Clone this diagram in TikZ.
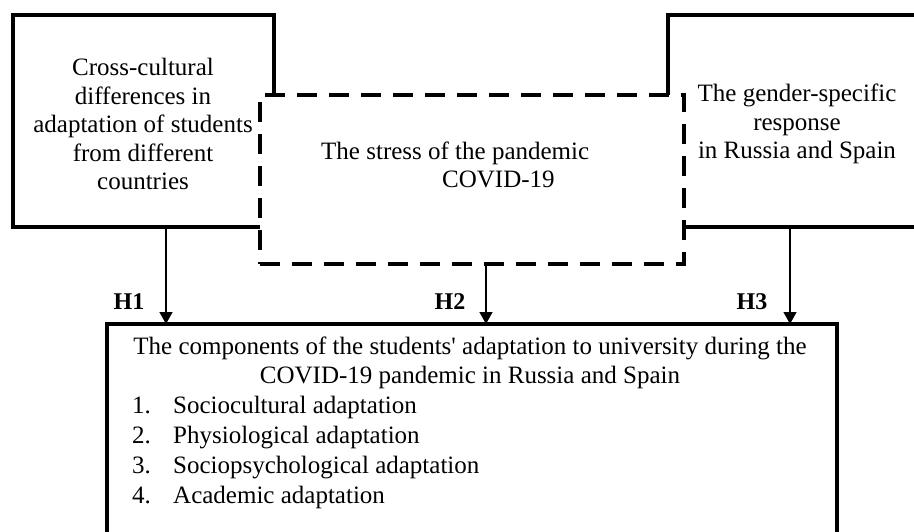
\documentclass[tikz,border=0pt]{standalone}
\usepackage{fontspec}
\setmainfont{Liberation Serif}
\usetikzlibrary{arrows.meta}
\begin{document}
\begin{tikzpicture}[x=1pt,y=-1pt,
  box/.style={draw,line width=4pt,fill=white,outer sep=0pt,inner sep=0pt},
  dbox/.style={box,dash pattern=on 20pt off 12pt},
  txt/.style={font=\fontsize{25}{28.5}\selectfont,align=center,inner sep=0pt},
  lbl/.style={font=\fontsize{24}{28}\selectfont\bfseries,inner sep=0pt},
  arr/.style={line width=1.3pt,-{Triangle[width=13pt,length=12pt]}}]
\useasboundingbox (0,0) rectangle (914,531);
\clip (0,0) rectangle (914,531);
\node[box,minimum width=261pt,minimum height=212pt] (lbox) at (143.5,121) {};
\node[box,minimum width=258pt,minimum height=212pt] (rbox) at (797,121) {};
\node[dbox,minimum width=424pt,minimum height=169pt] (dbox) at (472,179.5) {};
\node[box,minimum width=730pt,minimum height=260pt] (bbox) at (472,454) {};
\node[txt] (ltxt) at (143,124) {Cross-cultural\\differences in\\adaptation of students\\from different\\countries};
\node[txt] (rtxt) at (797,124) {The gender-specific\\response\\in Russia and Spain};
\node[txt,align=left,anchor=west] (stxt) at (321,165) {The stress of the pandemic\\\hspace*{121pt}COVID-19};
\node[txt] (btitle) at (470,363) {The components of the students\textquotesingle{} adaptation to university during the\\COVID-19 pandemic in Russia and Spain};
\node[txt,align=left,anchor=west,font=\fontsize{25}{30.3}\selectfont] (list) at (132,452.5)
  {\makebox[41pt][l]{1.}Sociocultural adaptation\\
   \makebox[41pt][l]{2.}Physiological adaptation\\
   \makebox[41pt][l]{3.}Sociopsychological adaptation\\
   \makebox[41pt][l]{4.}Academic adaptation};
\node[lbl] (h1) at (129,302) {H1};
\node[lbl] (h2) at (450,302) {H2};
\node[lbl] (h3) at (752,302) {H3};
\coordinate (x1) at (166,0);
\coordinate (x2) at (486,0);
\coordinate (x3) at (790,0);
\draw[arr] (lbox.south -| x1) -- (bbox.north -| x1);
\draw[arr] (dbox.south -| x2) -- (bbox.north -| x2);
\draw[arr] (rbox.south -| x3) -- (bbox.north -| x3);
\end{tikzpicture}
\end{document}
